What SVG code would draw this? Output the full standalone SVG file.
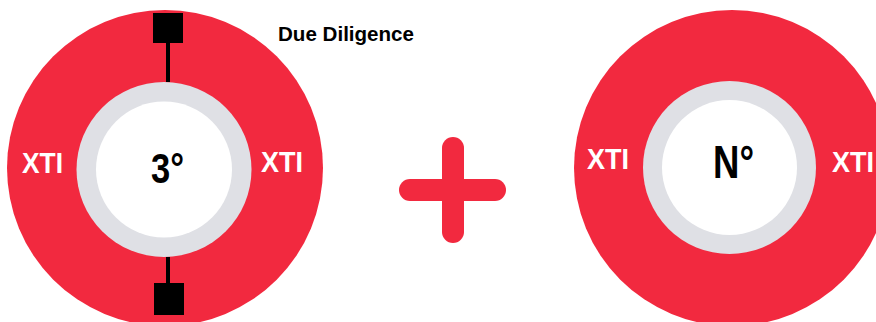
<svg xmlns="http://www.w3.org/2000/svg" width="876" height="322" viewBox="0 0 876 322">
<style>
.red{fill:#F2293F}
.ring{fill:#DFE0E5}
.hole{fill:#FFFFFF}
.xti{font-family:"Liberation Sans",Arial,sans-serif;font-weight:bold;font-size:29px;fill:#FFFFFF}
.big{font-family:"Liberation Sans",Arial,sans-serif;font-weight:bold;font-size:43px;fill:#000000}
.lbl{font-family:"Liberation Sans",Arial,sans-serif;font-weight:bold;font-size:20px;fill:#000000}
.bar{stroke:#000000;stroke-width:4}
</style>
<rect width="876" height="322" fill="#FFFFFF"/>
<g id="node-left">
<circle class="red" cx="165" cy="168" r="158"/>
<circle class="ring" cx="164" cy="169.5" r="87.5"/>
<circle class="hole" cx="164" cy="169.5" r="68"/>
<text class="xti" x="22" y="173" textLength="41" lengthAdjust="spacingAndGlyphs">XTI</text>
<text class="xti" x="261" y="172" textLength="42" lengthAdjust="spacingAndGlyphs">XTI</text>
<text class="big" x="151" y="183" textLength="33" lengthAdjust="spacingAndGlyphs">3°</text>
</g>
<g id="connectors">
<line class="bar" x1="168" y1="40" x2="168" y2="82"/>
<line class="bar" x1="168" y1="257" x2="168" y2="286"/>
<rect x="153" y="13" width="30" height="30" fill="#000000"/>
<rect x="154" y="283" width="30" height="32" fill="#000000"/>
</g>
<g id="label-due-diligence">
<text class="lbl" x="278" y="41" textLength="136" lengthAdjust="spacingAndGlyphs">Due Diligence</text>
</g>
<g id="plus">
<line x1="410" y1="190" x2="495" y2="190" stroke="#F2293F" stroke-width="22" stroke-linecap="round"/>
<line x1="453" y1="148" x2="453" y2="232" stroke="#F2293F" stroke-width="22" stroke-linecap="round"/>
</g>
<g id="node-right">
<circle class="red" cx="732" cy="168" r="158"/>
<circle class="ring" cx="729.5" cy="167.5" r="86.5"/>
<circle class="hole" cx="729.5" cy="167.5" r="67.5"/>
<text class="xti" x="587" y="169" textLength="42" lengthAdjust="spacingAndGlyphs">XTI</text>
<text class="xti" x="832" y="172" textLength="42" lengthAdjust="spacingAndGlyphs">XTI</text>
<text class="big" x="713" y="178" textLength="41" lengthAdjust="spacingAndGlyphs" style="font-size:46px">N°</text>
</g>
</svg>
